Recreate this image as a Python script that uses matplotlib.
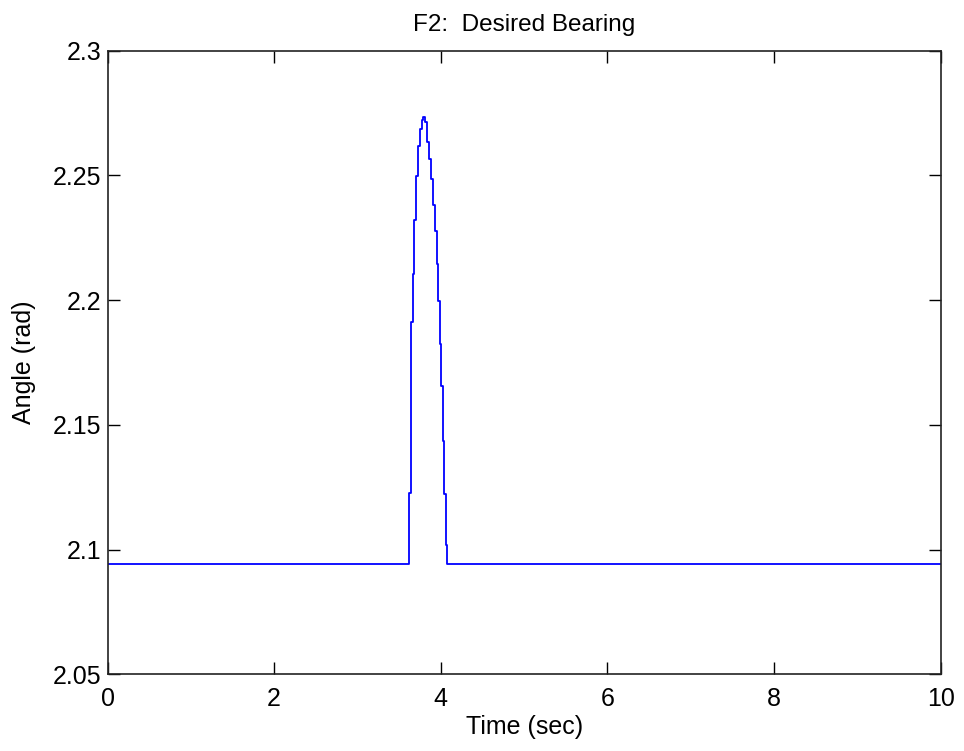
import numpy as np
import matplotlib
matplotlib.use("Agg")
import matplotlib.pyplot as plt

plt.rcParams['font.family'] = ['Liberation Sans', 'DejaVu Sans']

# Sampled desired bearing (zero-order hold), time in sec, angle in rad
time_s = [0.0, 3.622, 3.642, 3.663, 3.682, 3.706, 3.726, 3.750, 3.770, 3.786,
          3.807, 3.831, 3.862, 3.886, 3.910, 3.930, 3.951, 3.970, 3.990, 4.006,
          4.023, 4.042, 4.062, 4.078, 10.0]
angle_rad = [2.0944, 2.1227, 2.1914, 2.2105, 2.2322, 2.2498, 2.2616, 2.2686, 2.2723, 2.2736,
             2.2716, 2.2632, 2.2566, 2.2486, 2.2382, 2.2278, 2.2144, 2.1998, 2.1826, 2.1657,
             2.1437, 2.1222, 2.1018, 2.0944, 2.0944]

xticks = [0, 2, 4, 6, 8, 10]
yticks = [2.05, 2.1, 2.15, 2.2, 2.25, 2.3]
ytick_labels = ['2.05', '2.1', '2.15', '2.2', '2.25', '2.3']

fig = plt.figure(figsize=(9.64, 7.51), dpi=100)
ax = fig.add_axes([0.1116, 0.1021, 0.8641, 0.8304])
ax.plot(time_s, angle_rad, color='#0000ff', lw=1.3, drawstyle='steps-post')
ax.set_xlim(0, 10)
ax.set_ylim(2.05, 2.3)
ax.set_xticks(xticks)
ax.set_xticklabels([str(t) for t in xticks])
ax.set_yticks(yticks)
ax.set_yticklabels(ytick_labels)
ax.tick_params(direction='in', length=8.5, width=1.0, labelsize=18, top=True, right=True)
ax.tick_params(axis='x', pad=9)
ax.tick_params(axis='y', pad=4.5)
for s in ax.spines.values():
    s.set_linewidth(1.2)
    s.set_color('#222222')
ax.set_xlabel('Time (sec)', fontsize=18, labelpad=3)
ax.set_ylabel('Angle (rad)', fontsize=18, labelpad=12)
ax.set_title('F2:  Desired Bearing', fontsize=17.5, pad=14)
fig.savefig('out.png', dpi=100)
